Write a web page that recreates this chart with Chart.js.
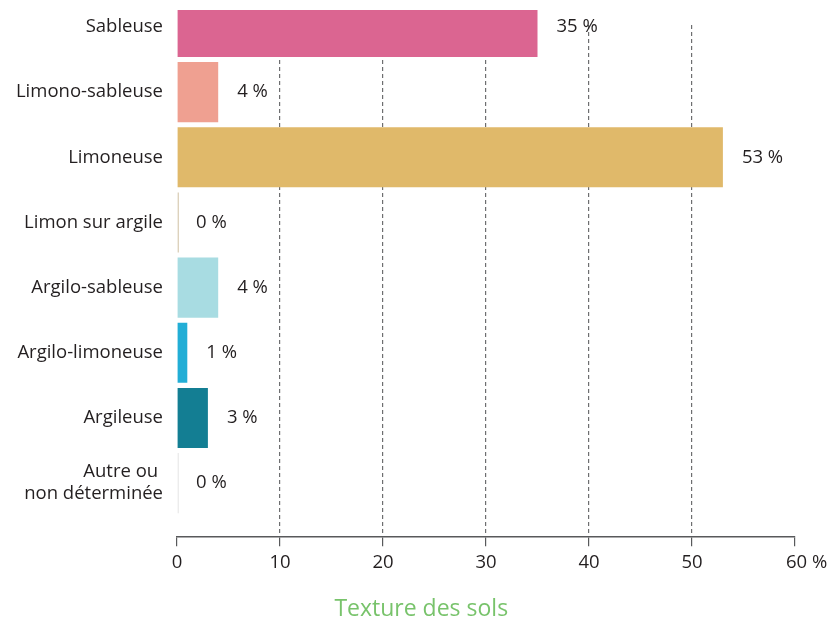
<!DOCTYPE html>
<html lang="fr">
<head>
<meta charset="utf-8">
<title>Texture des sols</title>
<script src="https://cdn.jsdelivr.net/npm/chart.js@4.4.0/dist/chart.umd.min.js"></script>
<style>
  html, body { margin: 0; padding: 0; background: #fff; }
  #wrap { width: 831px; height: 621px; }
</style>
</head>
<body>
<div id="wrap"><canvas id="soilChart"></canvas></div>
<script>
const categories = ['Sableuse', 'Limono-sableuse', 'Limoneuse', 'Limon sur argile',
  'Argilo-sableuse', 'Argilo-limoneuse', 'Argileuse', ['Autre ou ', 'non déterminée']];
const shares = [35, 4, 53, 0, 4, 1, 3, 0];
const barColors = ['#db6591', '#efa091', '#e0b96a', '#ddd2bd', '#a8dce2', '#22aed6', '#137e93', '#ececec'];
const xTicks = [0, 10, 20, 30, 40, 50, 60];

const FONT = '"Open Sans", sans-serif';
const TEXT = '#231f20';
Chart.defaults.font.family = FONT;

// "xx %" written just past the end of each bar
const valueLabels = {
  id: 'valueLabels',
  afterDatasetsDraw(chart) {
    const ctx = chart.ctx;
    const xScale = chart.scales.x;
    ctx.save();
    ctx.font = '18.5px ' + FONT;
    ctx.fillStyle = TEXT;
    ctx.textAlign = 'left';
    ctx.textBaseline = 'middle';
    chart.getDatasetMeta(0).data.forEach((bar, i) => {
      const end = xScale.getPixelForValue(shares[i]);
      ctx.fillText(shares[i] + ' %', end + 19, bar.y);
    });
    ctx.restore();
  }
};

new Chart(document.getElementById('soilChart'), {
  type: 'bar',
  data: {
    datasets: [{
      data: shares.map((v, i) => ({ x: v, y: i })),
      backgroundColor: barColors,
      borderWidth: 0,
      barPercentage: 1,
      categoryPercentage: 0.922,
      minBarLength: 2,
      clip: { left: 5, right: 5, top: 15, bottom: 0 }
    }]
  },
  options: {
    indexAxis: 'y',
    responsive: true,
    maintainAspectRatio: false,
    animation: false,
    layout: { padding: { top: 25, right: 0, left: 0, bottom: 0 } },
    plugins: {
      legend: { display: false },
      tooltip: { enabled: false },
      title: {
        display: true,
        text: '\u2002Texture des sols',
        position: 'bottom',
        color: '#78c36b',
        font: { size: 23, weight: 'normal' },
        padding: { top: 17, bottom: -2 }
      }
    },
    scales: {
      x: {
        type: 'linear',
        min: 0,
        max: 60,
        afterBuildTicks: s => { s.ticks = xTicks.map(v => ({ value: v })); },
        afterFit: s => { s.paddingLeft = 0; s.paddingRight = 36; },
        grid: {
          color: c => (c.tick && (c.tick.value === 0 || c.tick.value === 60)) ? 'rgba(0,0,0,0)' : '#6d6e70',
          lineWidth: 1.2,
          tickColor: '#58595b',
          tickLength: 9,
          tickWidth: 1.2
        },
        border: { display: true, color: '#58595b', width: 1.5, dash: [4, 3] },
        ticks: {
          color: TEXT,
          font: { size: 18.5 },
          padding: 5,
          maxRotation: 0,
          callback: v => v === 60 ? '\u2002\u2002 60 %' : String(v)
        }
      },
      y: {
        type: 'linear',
        reverse: true,
        offset: false,
        min: -0.03,
        max: 7.83,
        afterBuildTicks: s => { s.ticks = categories.map((_, i) => ({ value: i })); },
        afterFit: s => { s.width = 177; s.paddingTop = 0; s.paddingBottom = 0; },
        grid: { display: false, drawTicks: false },
        border: { display: false },
        ticks: {
          color: TEXT,
          font: { size: 18.5 },
          padding: 14,
          callback: v => categories[v]
        }
      }
    }
  },
  plugins: [valueLabels]
});
</script>
</body>
</html>
